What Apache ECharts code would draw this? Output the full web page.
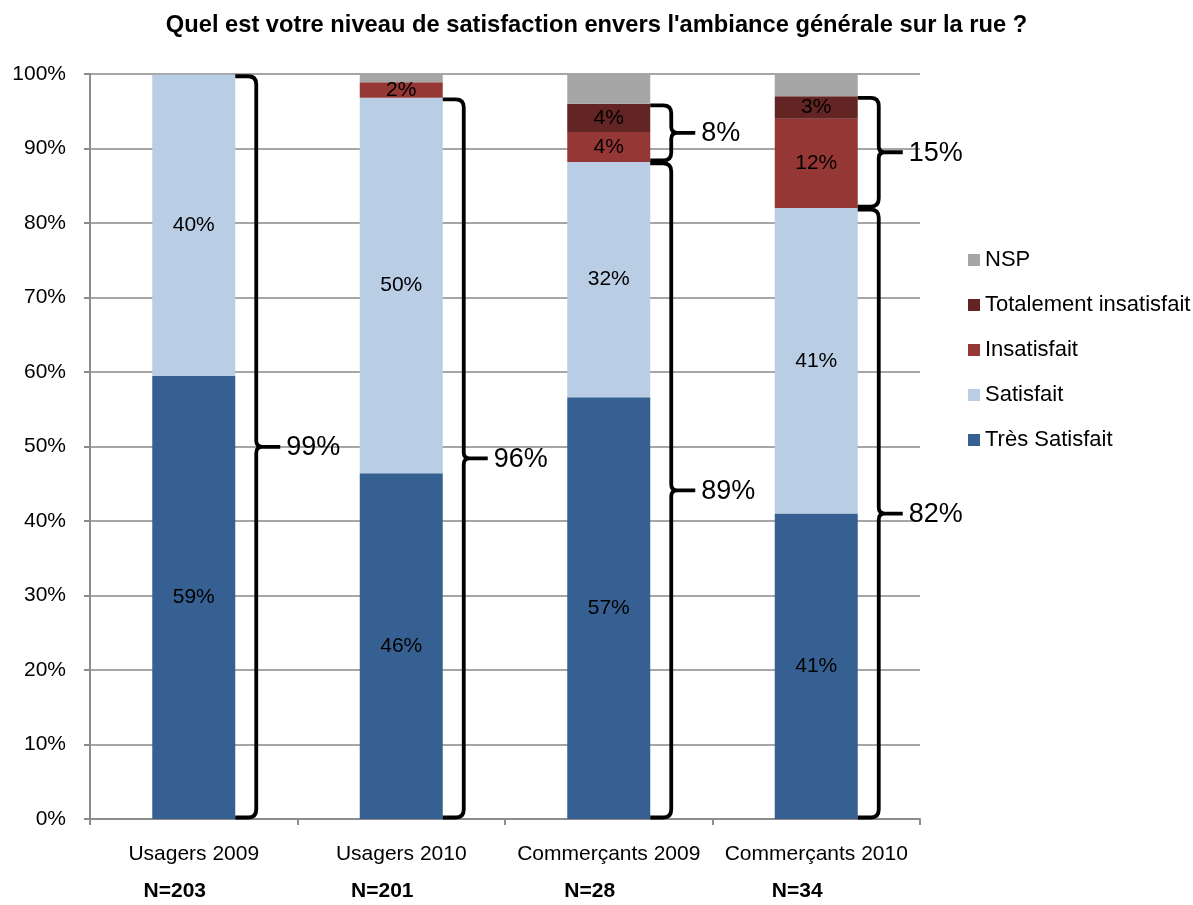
<!DOCTYPE html>
<html>
<head>
<meta charset="utf-8">
<script src="https://cdn.jsdelivr.net/npm/echarts@6/dist/echarts.min.js"></script>
<style>
  html, body { margin: 0; padding: 0; background: #fff; }
  #chart { width: 1193px; height: 905px; }
</style>
</head>
<body>
<div id="chart"></div>
<script>
// Survey groups and sample sizes
const categories = ['Usagers 2009', 'Usagers 2010', 'Commerçants 2009', 'Commerçants 2010'];
const sampleSizes = ['N=203', 'N=201', 'N=28', 'N=34'];

// Share of answers per level (%), bottom to top of each stack
const tresSatisfait = [59.45, 46.4, 56.6, 41.0];
const satisfait = [40.45, 50.4, 31.6, 41.0];
const insatisfait = [0, 2.1, 4.0, 12.0];
const totalementInsatisfait = [0, 0, 3.8, 3.0];
const nsp = [0, 1.1, 4.0, 3.0];

// Tick labels of the value axis
const yTicks = ['0%', '10%', '20%', '30%', '40%', '50%', '60%', '70%', '80%', '90%', '100%'];

const FONT = "'Liberation Sans', Arial, sans-serif";
const COLORS = {
  tres: '#376092',
  sat: '#B9CDE5',
  insat: '#953735',
  tot: '#632523',
  nsp: '#A6A6A6'
};

const pct = v => Math.round(v);

// Braces: satisfied block (bottom) and dissatisfied block (above it)
const braces = [];
const braceText = [];
categories.forEach((c, i) => {
  const satTop = tresSatisfait[i] + satisfait[i];
  braces.push([i, 0, satTop]);
  braceText.push(pct(tresSatisfait[i]) + pct(satisfait[i]) + '%');
  const dis = insatisfait[i] + totalementInsatisfait[i];
  if (totalementInsatisfait[i] > 0) {
    braces.push([i, satTop, satTop + dis]);
    braceText.push(pct(insatisfait[i]) + pct(totalementInsatisfait[i]) + '%');
  }
});

function segLabel(p) {
  return p.value > 0 ? pct(p.value) + '%' : '';
}

function barSeries(name, data, color, showLabel) {
  return {
    name: name,
    type: 'bar',
    stack: 'total',
    data: data,
    barWidth: '40%',
    itemStyle: { color: color },
    label: {
      show: showLabel,
      position: 'inside',
      formatter: segLabel,
      color: '#000',
      fontFamily: FONT,
      fontSize: 21
    },
    emphasis: { disabled: true }
  };
}

function renderBrace(params, api) {
  const c = api.value(0);
  const lo = api.value(1);
  const hi = api.value(2);
  const pLo = api.coord([c, lo]);
  const pHi = api.coord([c, hi]);
  const half = api.size([1, 0])[0] * 0.2;
  const x0 = pLo[0] + half;
  const x1 = x0 + 21;
  const x2 = x1 + 24;
  const yT = pHi[1] + 1.5;
  const yB = pLo[1] - 1.5;
  const yM = (yT + yB) / 2;
  const r = 8, r2 = 6;
  const d = [
    'M', x0, yT,
    'L', x1 - r, yT,
    'Q', x1, yT, x1, yT + r,
    'L', x1, yM - r2,
    'Q', x1, yM, x1 + r2, yM,
    'L', x2, yM,
    'M', x1 + r2, yM,
    'Q', x1, yM, x1, yM + r2,
    'L', x1, yB - r,
    'Q', x1, yB, x1 - r, yB,
    'L', x0, yB
  ].join(' ');
  return {
    type: 'group',
    children: [
      {
        type: 'path',
        shape: { pathData: d },
        style: { fill: null, stroke: '#000', lineWidth: 3.8, lineJoin: 'round', lineCap: 'butt' }
      },
      {
        type: 'text',
        x: x2 + 6,
        y: yM + 1,
        style: {
          text: braceText[params.dataIndex],
          fill: '#000',
          font: '27px ' + FONT,
          textVerticalAlign: 'middle',
          textAlign: 'left'
        }
      }
    ]
  };
}

const chart = echarts.init(document.getElementById('chart'), null, { renderer: 'canvas' });
chart.setOption({
  animation: false,
  backgroundColor: '#fff',
  title: {
    text: "Quel est votre niveau de satisfaction envers l'ambiance générale sur la rue ?",
    left: 'center',
    top: 8,
    textStyle: { fontFamily: FONT, fontWeight: 'bold', fontSize: 23.7, color: '#000' }
  },
  legend: {
    orient: 'vertical',
    left: 963,
    top: 243,
    itemWidth: 12,
    itemHeight: 12,
    itemGap: 21,
    icon: 'rect',
    data: ['NSP', 'Totalement insatisfait', 'Insatisfait', 'Satisfait', 'Très Satisfait'],
    textStyle: { fontFamily: FONT, fontSize: 22, color: '#000', lineHeight: 24, padding: [0, 0, 0, 0] },
    selectedMode: false
  },
  grid: { left: 90, right: 273, top: 74, bottom: 86, containLabel: false },
  xAxis: {
    type: 'category',
    data: categories,
    axisLine: { show: true, lineStyle: { color: '#8C8C8C', width: 2 } },
    axisTick: { show: true, length: 6, lineStyle: { color: '#8C8C8C', width: 2 } },
    axisLabel: {
      margin: 17,
      interval: 0,
      formatter: (v, i) => '{c|' + v + '}\n{n|' + sampleSizes[i] + '}',
      rich: {
        c: { fontFamily: FONT, fontSize: 21, color: '#000', lineHeight: 37 },
        n: { fontFamily: FONT, fontSize: 21, fontWeight: 'bold', color: '#000', lineHeight: 37, padding: [0, 38, 0, 0] }
      }
    }
  },
  yAxis: {
    type: 'value',
    min: 0,
    max: 100,
    interval: 10,
    axisLine: { show: true, lineStyle: { color: '#8C8C8C', width: 2 } },
    axisTick: { show: true, length: 6, lineStyle: { color: '#8C8C8C', width: 2 } },
    splitLine: { show: true, lineStyle: { color: '#A6A6A6', width: 2 } },
    axisLabel: {
      margin: 24,
      formatter: v => yTicks[Math.round(v / 10)],
      fontFamily: FONT,
      fontSize: 21,
      color: '#000'
    }
  },
  series: [
    barSeries('Très Satisfait', tresSatisfait, COLORS.tres, true),
    barSeries('Satisfait', satisfait, COLORS.sat, true),
    barSeries('Insatisfait', insatisfait, COLORS.insat, true),
    barSeries('Totalement insatisfait', totalementInsatisfait, COLORS.tot, true),
    barSeries('NSP', nsp, COLORS.nsp, false),
    {
      type: 'custom',
      name: 'braces',
      data: braces,
      encode: { x: 0, y: [1, 2] },
      renderItem: renderBrace,
      z: 5,
      silent: true,
      clip: false
    }
  ]
});
</script>
</body>
</html>
